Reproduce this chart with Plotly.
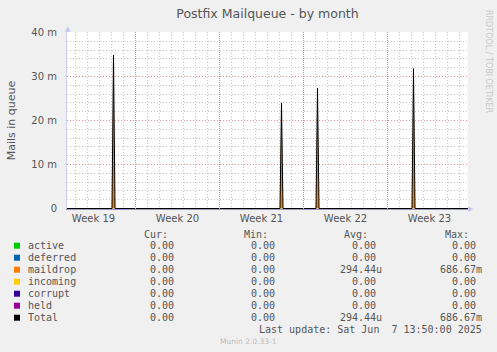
import plotly.graph_objects as go
from datetime import datetime, timedelta

# ---------------- data ----------------
title = "Postfix Mailqueue - by month"
y_title = "Mails in queue"

# spikes of the (stacked) maildrop series == Total, in mails (monthly averages)
spike_times = ["2025-05-10 04:00", "2025-05-24 04:00", "2025-05-27 04:00", "2025-06-04 04:00"]
spike_values = [0.0349, 0.0240, 0.0274, 0.0318]
sample_hours = 3  # half-width of a spike as drawn

x_start = "2025-05-06 07:00"
x_end = "2025-06-08 17:00"
week_tick0 = "2025-05-05"
week_starts = ["2025-05-12", "2025-05-19", "2025-05-26", "2025-06-02"]
week_numbers = ["19", "20", "21", "22", "23"]
week_labels = ["Week 19", "Week 20", "Week 21", "Week 22", "Week 23"]

y_tickvals = [0, 0.01, 0.02, 0.03, 0.04]
y_ticktext = ["0", "10 m", "20 m", "30 m", "40 m"]

series_names = ["active", "deferred", "maildrop", "incoming", "corrupt", "held", "Total"]
series_colors = ["#00CC00", "#0066B3", "#FF8000", "#FFCC00", "#330099", "#990099", "#000000"]
cur_vals = ["0.00", "0.00", "0.00", "0.00", "0.00", "0.00", "0.00"]
min_vals = ["0.00", "0.00", "0.00", "0.00", "0.00", "0.00", "0.00"]
avg_vals = ["0.00", "0.00", "294.44u", "0.00", "0.00", "0.00", "294.44u"]
max_vals = ["0.00", "0.00", "686.67m", "0.00", "0.00", "0.00", "686.67m"]
last_update = "Last update: Sat Jun\u00a0\u00a07 13:50:00 2025"
munin_version = "Munin 2.0.33-1"
rrd_credit = "RRDTOOL / TOBI OETIKER"

# ---------------- build series ----------------
fmt = "%Y-%m-%d %H:%M"
step = timedelta(hours=sample_hours)
t_start = datetime.strptime(x_start, fmt)
t_end = datetime.strptime(x_end, fmt)
xs = [t_start]
ys = [0.0]
for t, v in zip(spike_times, spike_values):
    tt = datetime.strptime(t, fmt)
    xs += [tt - step, tt, tt + step]
    ys += [0.0, v, 0.0]
xs.append(t_end)
ys.append(0.0)

# minor grid positions (days that are not week starts, 2 m steps that are not 10 m steps)
t0 = datetime.strptime(week_tick0, "%Y-%m-%d")
x_minor = []
d = t0
while d <= t_end:
    if (d - t0).days % 7 != 0 and d >= t_start:
        x_minor.append(d.strftime("%Y-%m-%d"))
    d += timedelta(days=1)
y_minor = [round(k * 0.002, 4) for k in range(1, 20) if k % 5 != 0]

# ---------------- layout geometry ----------------
W, H = 497, 352
L, R, T, B = 67, 468, 32, 209
# half a pixel of headroom on both ends so grid lines fall on pixel centres
y_pad = 0.5 * 0.01 / 44
y_range = [-y_pad, 0.04 + y_pad]


def px(x):
    return (x - L) / (R - L)


def py(y):
    return (B - y) / (B - T)


fig = go.Figure()
fig.add_trace(go.Scatter(x=xs, y=ys, mode="lines", fill="tozeroy",
                         fillcolor="rgba(230,115,0,0.9)",
                         line=dict(color="rgba(0,0,0,0)", width=0),
                         hoverinfo="skip", showlegend=False))
fig.add_trace(go.Scatter(x=xs, y=ys, mode="lines",
                         line=dict(color="#000000", width=1),
                         hoverinfo="skip", showlegend=False))

font_sans = "DejaVu Sans"
font_mono = "DejaVu Sans Mono"
txt = "#555555"
major_grid = "rgb(236,140,140)"
week_grid = "rgb(232,125,125)"
minor_grid = "#C6C6C6"
dash = "1px,2px"

fig.update_layout(
    width=W, height=H,
    margin=dict(l=L, r=W - R, t=T, b=H - B, pad=0),
    paper_bgcolor="#F0F0F0",
    plot_bgcolor="#FFFFFF",
    showlegend=False,
    title=dict(text=title, x=0.5, xref="paper", xanchor="center",
               y=1 - 14 / H, yref="container", yanchor="middle",
               font=dict(family=font_sans, size=12.5, color=txt)),
    xaxis=dict(type="date", range=[x_start, x_end],
               tick0=week_tick0, dtick=7 * 86400000,
               ticklabelmode="period", tickformat="%V",
               labelalias=dict(zip(week_numbers, week_labels)),
               showgrid=False,
               minor=dict(tickmode="array", tickvals=x_minor, showgrid=True,
                          gridcolor=minor_grid, griddash=dash, gridwidth=1, ticks=""),
               showline=True, linecolor="#9A9AB8", linewidth=1, mirror=False,
               ticks="", zeroline=False,
               tickfont=dict(family=font_sans, size=10, color=txt)),
    yaxis=dict(range=y_range, tickvals=y_tickvals, ticktext=y_ticktext,
               showgrid=True, gridcolor=major_grid, griddash=dash, gridwidth=1,
               minor=dict(tickmode="array", tickvals=y_minor, showgrid=True,
                          gridcolor=minor_grid, griddash=dash, gridwidth=1, ticks=""),
               showline=True, linecolor="#CCCCEE", linewidth=1,
               ticks="", zeroline=False, ticklabelstandoff=7,
               tickfont=dict(family=font_sans, size=10, color=txt),
               title=dict(text=y_title, standoff=13,
                          font=dict(family=font_sans, size=11, color=txt))),
)

ann = []
shapes = []
# major (week) grid lines at week starts
for ws in week_starts:
    shapes.append(dict(type="line", xref="x", yref="paper", x0=ws, x1=ws, y0=0, y1=1,
                       layer="above", line=dict(color=week_grid, width=1, dash="1px,1px")))
# axis arrows
ann.append(dict(x=px(67.5), y=py(29), xref="paper", yref="paper", text="\u25b2",
                showarrow=False, font=dict(family=font_sans, size=7, color="#C4C4F0"),
                xanchor="center", yanchor="middle"))
ann.append(dict(x=px(471), y=py(208.5), xref="paper", yref="paper", text="\u25b6",
                showarrow=False, font=dict(family=font_sans, size=7, color="#C4C4F0"),
                xanchor="center", yanchor="middle"))
# rrdtool credit
ann.append(dict(x=px(489), y=py(61), xref="paper", yref="paper", text=rrd_credit,
                textangle=90, showarrow=False,
                font=dict(family=font_sans, size=8, color="#C8C8C8"),
                xanchor="center", yanchor="middle"))

# legend headers
headers = [("Cur:", 170), ("Min:", 270), ("Avg:", 370), ("Max:", 471)]
for h, xr in headers:
    ann.append(dict(x=px(xr), y=py(234), xref="paper", yref="paper", text=h,
                    showarrow=False, font=dict(family=font_mono, size=10, color=txt),
                    xanchor="right", yanchor="middle"))


def pad(v):
    return v if v[-1].isalpha() else v + "\u00a0"


col_right = [182, 283, 384, 484]
for i, name in enumerate(series_names):
    yc = 245.7 + 12 * i
    shapes.append(dict(type="rect", xref="paper", yref="paper",
                       x0=px(14), x1=px(20), y0=py(yc - 3), y1=py(yc + 3),
                       fillcolor=series_colors[i], line=dict(width=0)))
    ann.append(dict(x=px(26), y=py(yc), xref="paper", yref="paper", text=name,
                    showarrow=False, font=dict(family=font_mono, size=10, color=txt),
                    xanchor="left", yanchor="middle"))
    for col, xr in zip([cur_vals, min_vals, avg_vals, max_vals], col_right):
        ann.append(dict(x=px(xr), y=py(yc), xref="paper", yref="paper", text=pad(col[i]),
                        showarrow=False, font=dict(family=font_mono, size=10, color=txt),
                        xanchor="right", yanchor="middle"))

ann.append(dict(x=px(484), y=py(329.5), xref="paper", yref="paper", text=last_update,
                showarrow=False, font=dict(family=font_mono, size=10, color=txt),
                xanchor="right", yanchor="middle"))
ann.append(dict(x=px(248), y=py(341), xref="paper", yref="paper", text=munin_version,
                showarrow=False, font=dict(family=font_sans, size=7.5, color="#BBBBBB"),
                xanchor="center", yanchor="middle"))

fig.update_layout(annotations=ann, shapes=shapes)
fig.write_html("out.html")
